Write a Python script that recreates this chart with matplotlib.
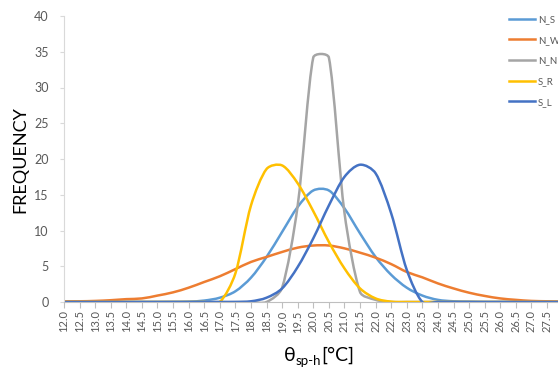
import numpy as np
import matplotlib
matplotlib.use('Agg')
import matplotlib.pyplot as plt
from matplotlib.path import Path
from matplotlib.patches import PathPatch

plt.rcParams['font.family'] = ['Lato', 'DejaVu Sans']

# categories on the x axis (theta_sp-h, degC)
theta = [12.0, 12.5, 13.0, 13.5, 14.0, 14.5, 15.0, 15.5, 16.0, 16.5, 17.0,
         17.5, 18.0, 18.5, 19.0, 19.5, 20.0, 20.5, 21.0, 21.5, 22.0, 22.5,
         23.0, 23.5, 24.0, 24.5, 25.0, 25.5, 26.0, 26.5, 27.0, 27.5, 28.0]

n_s = [0, 0, 0, 0, 0, 0, 0, 0.02, 0.05, 0.2, 0.6, 1.5, 3.4, 6.3, 9.8, 13.3,
       15.6, 15.6, 13.1, 9.6, 6.3, 3.8, 2.0, 0.9, 0.3, 0.1, 0.05,
       0, 0, 0, 0, 0, 0]
n_w = [0.1, 0.1, 0.15, 0.25, 0.4, 0.5, 0.9, 1.35, 2.0, 2.8, 3.6, 4.6, 5.6,
       6.3, 7.0, 7.6, 7.9, 7.9, 7.5, 6.9, 6.2, 5.3, 4.2, 3.45, 2.6, 1.9,
       1.3, 0.85, 0.5, 0.3, 0.15, 0.1, 0.05]
n_n = [0, 0, 0, 0, 0, 0, 0, 0, 0, 0, 0, 0, 0, 0,
       2.0, 13.5, 34.2, 34.2, 12.5, 1.4, 0.3,
       0, 0, 0, 0, 0, 0, 0, 0, 0, 0, 0, 0]
s_r = [0, 0, 0, 0, 0, 0, 0, 0, 0, 0, 0,
       4.0, 13.5, 18.6, 19.1, 16.6, 12.7, 8.4, 4.7, 1.9, 0.5, 0.05,
       0, 0, 0, 0, 0, 0, 0, 0, 0, 0, 0]
s_l = [0, 0, 0, 0, 0, 0, 0, 0, 0, 0, 0, 0,
       0.1, 0.6, 1.9, 4.9, 8.9, 13.5, 17.5, 19.2, 18.0, 12.4, 4.5, 0,
       0, 0, 0, 0, 0, 0, 0, 0, 0]

series = [('N_S', n_s, '#5B9BD5'),
          ('N_W', n_w, '#ED7D31'),
          ('N_N', n_n, '#A5A5A5'),
          ('S_R', s_r, '#FFC000'),
          ('S_L', s_l, '#4472C4')]

fig = plt.figure(figsize=(5.58, 3.67), dpi=100)
ax = fig.add_axes([64/558, 65/367, 494/558, 286/367])
ax.set_xlim(12.0, 12.0 + 494/31.16)
ax.set_ylim(0, 40)


def smooth_path(x, y):
    # excel-like smoothed line: catmull-rom bezier, but the handle on the
    # short side of a point is cut down so flat tops do not overshoot
    P = np.column_stack([x, y]).astype(float)
    D = ax.transData.transform(P)
    n = len(P)
    fwd = []
    bwd = []
    for i in range(n):
        if i == 0:
            fwd.append(P[0] + (P[1] - P[0]) / 3)
            bwd.append(P[0])
            continue
        if i == n - 1:
            fwd.append(P[i])
            bwd.append(P[i] - (P[i] - P[i-1]) / 3)
            continue
        d = P[i+1] - P[i-1]
        lp = np.hypot(*(D[i] - D[i-1]))
        ln = np.hypot(*(D[i+1] - D[i]))
        s = lp + ln
        if s == 0:
            fwd.append(P[i])
            bwd.append(P[i])
        else:
            fwd.append(P[i] + d * min(1/6, ln / (3*s)))
            bwd.append(P[i] - d * min(1/6, lp / (3*s)))
    verts = [P[0]]
    codes = [Path.MOVETO]
    for i in range(n - 1):
        verts += [fwd[i], bwd[i+1], P[i+1]]
        codes += [Path.CURVE4] * 3
    return Path(verts, codes)


for name, vals, col in series:
    ax.add_patch(PathPatch(smooth_path(theta, vals), fill=False,
                           edgecolor=col, lw=1.8, capstyle='round',
                           joinstyle='round'))
    ax.plot([], [], color=col, lw=1.8, label=name)

ax.set_xticks(theta[:-1])
ax.set_xticklabels(['%.1f' % t for t in theta[:-1]], rotation=90)
ax.set_yticks(np.arange(0, 41, 5))

ax.spines['top'].set_visible(False)
ax.spines['right'].set_visible(False)
ax.spines['left'].set_color('#d9d9d9')
ax.spines['bottom'].set_color('#bfbfbf')
ax.tick_params(axis='x', direction='out', length=4, color='#bfbfbf',
               labelsize=8, labelcolor='#595959', pad=2)
ax.tick_params(axis='y', direction='out', length=3, color='#d9d9d9',
               labelsize=9, labelcolor='#595959', pad=8)

fig.text(20/558, 1 - 160/367, 'FREQUENCY', rotation=90, ha='center',
         va='center', fontsize=13, color='#000000')

# x axis title: theta with subscript sp-h, then unit
fig.text(284/558, 1 - 361/367, 'θ', ha='left', va='baseline',
         fontsize=14, color='#000000')
fig.text(296/558, 1 - 365/367, 'sp-h', ha='left', va='baseline',
         fontsize=9.5, color='#000000')
fig.text(321/558, 1 - 361/367, '[°C]', ha='left', va='baseline',
         fontsize=14, color='#000000')

fig.legend(loc='upper left', bbox_to_anchor=(509/558, 1 - 15/367),
           frameon=False, fontsize=7, handlelength=2.7, handletextpad=0.3,
           labelspacing=1.2, borderpad=0, borderaxespad=0,
           labelcolor='#595959')

fig.savefig('out.png', dpi=100)
